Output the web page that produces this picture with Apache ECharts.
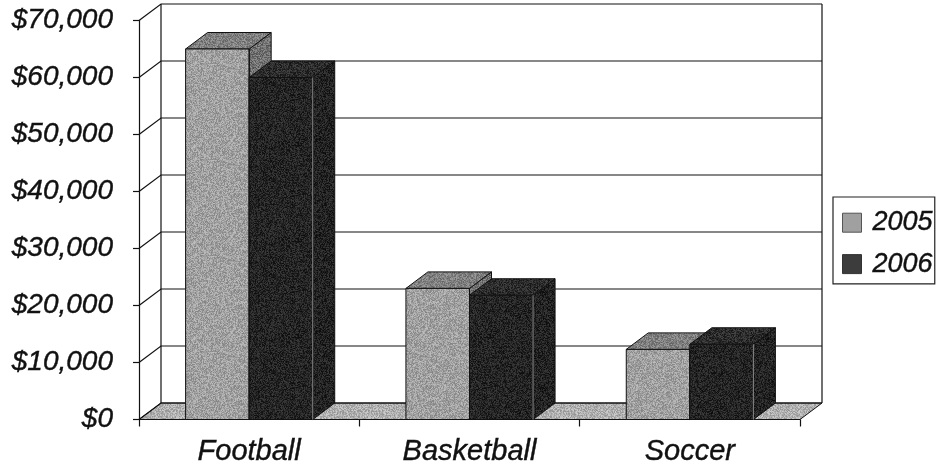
<!DOCTYPE html>
<html>
<head>
<meta charset="utf-8">
<style>html,body{margin:0;padding:0;background:#fff}#c{width:936px;height:468px}</style>
<script src="https://cdn.jsdelivr.net/npm/echarts@6/dist/echarts.min.js"></script>
</head>
<body>
<div id="c"></div>
<script>
const categories = ['Football', 'Basketball', 'Soccer'];
const seriesNames = ['2005', '2006'];
const values2005 = [65000, 23000, 12300];
const values2006 = [60000, 21800, 13200];
const yTicks = [0, 10000, 20000, 30000, 40000, 50000, 60000, 70000];

const DX = 22, DY = 16.5, LINE = '#111111';

// fine paper-like grain used as a fill texture
function grain(base, amp, seed) {
  const size = 96, cv = document.createElement('canvas');
  cv.width = cv.height = size;
  const ctx = cv.getContext('2d'), img = ctx.createImageData(size, size);
  let s = seed;
  for (let i = 0; i < size * size; i++) {
    s = (s * 1103515245 + 12345) & 0x7fffffff;
    const g = Math.max(0, Math.min(255, base + ((s >> 16) % (2 * amp + 1)) - amp));
    img.data[i * 4] = img.data[i * 4 + 1] = img.data[i * 4 + 2] = g;
    img.data[i * 4 + 3] = 255;
  }
  ctx.putImageData(img, 0, 0);
  return { image: cv, repeat: 'repeat' };
}
const FILL = {
  floor: grain(176, 30, 11),
  a: { front: grain(160, 30, 21), top: grain(128, 30, 22), side: grain(112, 36, 23) },
  b: { front: grain(36, 24, 31), top: grain(44, 26, 32), side: grain(34, 24, 33) }
};

function renderFrame(params, api) {
  const g = params.coordSys, v = api.value(1);
  const y = api.coord([0, v])[1], L = g.x, R = g.x + g.width;
  const kids = [{
    type: 'polyline',
    shape: { points: [[L, y], [L + DX, y - DY], [R + DX, y - DY]] },
    style: { fill: null, stroke: LINE, lineWidth: 1.2 }
  }];
  if (params.dataIndex === 0) {
    const B = g.y + g.height, T = g.y;
    kids.unshift({
      type: 'polygon',
      shape: { points: [[L, B], [L + DX, B - DY], [R + DX, B - DY], [R, B]] },
      style: { fill: FILL.floor, stroke: LINE, lineWidth: 1 }
    });
    kids.push({ type: 'line', shape: { x1: L + DX, y1: B - DY, x2: L + DX, y2: T - DY }, style: { stroke: LINE, lineWidth: 1.2 } });
    kids.push({ type: 'line', shape: { x1: R + DX, y1: B - DY, x2: R + DX, y2: T - DY }, style: { stroke: LINE, lineWidth: 1.2 } });
  }
  return { type: 'group', children: kids };
}

function makeBar(offset, fills, edge) {
  return function (params, api) {
    const base = api.coord([api.value(0), 0]);
    const top = api.coord([api.value(0), api.value(1)]);
    const w = api.size([1, 0])[0] * 0.2885;
    const x0 = base[0] + offset * w, x1 = x0 + w, yb = base[1], yt = top[1];
    const st = f => ({ fill: f, stroke: LINE, lineWidth: 1 });
    return {
      type: 'group',
      children: [
        { type: 'polygon', shape: { points: [[x1, yb], [x1 + DX, yb - DY], [x1 + DX, yt - DY], [x1, yt]] }, style: st(fills.side) },
        { type: 'polygon', shape: { points: [[x0, yt], [x0 + DX, yt - DY], [x1 + DX, yt - DY], [x1, yt]] }, style: st(fills.top) },
        { type: 'rect', shape: { x: x0, y: yt, width: w, height: yb - yt }, style: st(fills.front) },
        { type: 'line', shape: { x1: x1, y1: yt, x2: x1, y2: yb }, style: { stroke: edge, lineWidth: 1 } }
      ]
    };
  };
}

const font = { fontFamily: 'Liberation Sans', fontStyle: 'italic', color: '#111', textBorderColor: '#111', textBorderWidth: 0.4 };
const chart = echarts.init(document.getElementById('c'), null, { renderer: 'canvas' });
chart.setOption({
  animation: false,
  backgroundColor: '#fff',
  grid: { left: 139, top: 20.5, width: 661, height: 399, containLabel: false },
  legend: {
    left: 833, top: 197,
    orient: 'vertical',
    data: [
      { name: seriesNames[0], itemStyle: { color: '#a0a0a0', borderColor: '#555', borderWidth: 1 } },
      { name: seriesNames[1], itemStyle: { color: '#3c3c3c', borderColor: '#333', borderWidth: 1 } }
    ],
    selectedMode: false,
    icon: 'rect',
    itemWidth: 19, itemHeight: 19, itemGap: 14,
    padding: [12, 2, 6, 9],
    borderColor: '#222', borderWidth: 1.2,
    textStyle: Object.assign({}, font, { fontSize: 27, lineHeight: 19, padding: [0, 0, 0, 6] })
  },
  xAxis: {
    type: 'category', data: categories,
    axisLine: { lineStyle: { color: LINE, width: 1.2 } },
    axisTick: { show: true, alignWithLabel: false, length: 7, lineStyle: { color: LINE, width: 1.2 } },
    axisLabel: Object.assign({}, font, { fontSize: 29, margin: 18 }),
    splitLine: { show: false }
  },
  yAxis: {
    type: 'value', min: 0, max: 70000, interval: 10000,
    axisLine: { show: true, lineStyle: { color: LINE, width: 1.2 } },
    axisTick: { show: true, length: 6, lineStyle: { color: LINE, width: 1.2 } },
    axisLabel: Object.assign({}, font, { fontSize: 28, margin: 26, padding: [3, 0, 0, 0], formatter: v => '$' + v.toLocaleString('en-US') }),
    splitLine: { show: false }
  },
  series: [
    { type: 'custom', name: 'frame', z: 1, silent: true, renderItem: renderFrame, encode: { x: 0, y: 1 }, clip: false,
      data: yTicks.map(v => [0, v]) },
    { type: 'custom', name: seriesNames[0], z: 2, renderItem: makeBar(-1, FILL.a, LINE), encode: { x: 0, y: 1 }, clip: false,
      itemStyle: { color: '#a0a0a0' }, data: values2005.map((v, i) => [i, v]) },
    { type: 'custom', name: seriesNames[1], z: 3, renderItem: makeBar(0, FILL.b, '#8a8a8a'), encode: { x: 0, y: 1 }, clip: false,
      itemStyle: { color: '#3c3c3c' }, data: values2006.map((v, i) => [i, v]) }
  ]
});
</script>
</body>
</html>
